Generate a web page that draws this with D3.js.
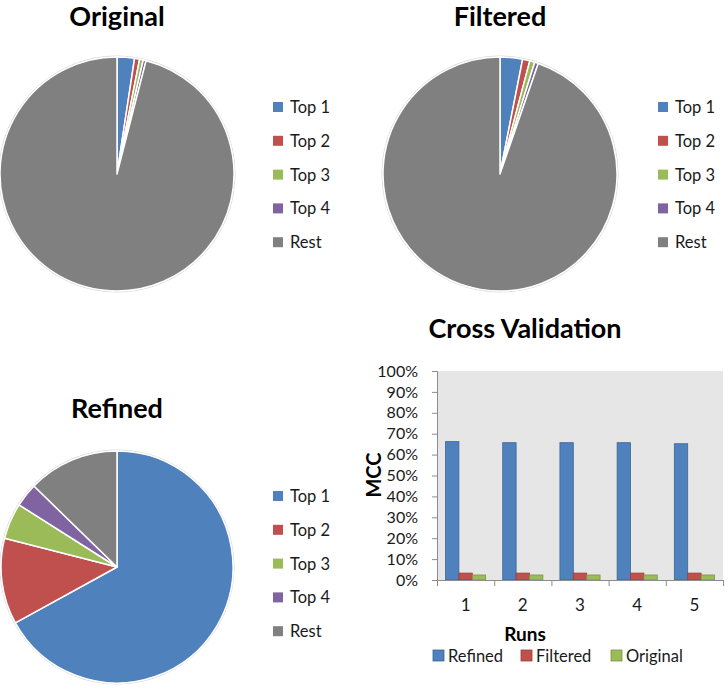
<!DOCTYPE html>
<html><head><meta charset="utf-8">
<script src="https://cdn.jsdelivr.net/npm/d3@7"></script>
<style>
body{margin:0;background:#fff;}
svg{display:block;font-family:Lato,"Open Sans",sans-serif;}
</style></head><body>
<svg id="c" width="728" height="696"></svg>
<script>
const pieCategories = ["Top 1","Top 2","Top 3","Top 4","Rest"];
const pieColors = ["#4f81bd","#c0504d","#9bbb59","#8064a2","#808080"];
const originalValues = [2.4, 0.7, 0.5, 0.4, 96.0];
const filteredValues = [3.1, 1.0, 0.7, 0.5, 94.7];
const refinedValues  = [67.0, 12.0, 5.0, 3.3, 12.7];

const runs = ["1","2","3","4","5"];
const barSeries = ["Refined","Filtered","Original"];
const barColors = ["#4f81bd","#c0504d","#9bbb59"];
const barStroke = ["#3a659a","#9a3d3a","#7a9544"];
const refinedMCC  = [0.662, 0.657, 0.657, 0.657, 0.652];
const filteredMCC = [0.033, 0.033, 0.033, 0.033, 0.033];
const originalMCC = [0.024, 0.024, 0.024, 0.024, 0.024];
const yTicks = [0,0.1,0.2,0.3,0.4,0.5,0.6,0.7,0.8,0.9,1.0];

const svg = d3.select("#c");

function drawPie(title, values, cx, cy, r, titleY, legX, legY0){
  const g = svg.append("g").attr("transform",`translate(${cx},${cy})`);
  const pie = d3.pie().sort(null).value(d=>d)(values);
  const arc = d3.arc().innerRadius(0).outerRadius(r);
  g.append("circle").attr("r", r+1).attr("fill","none").attr("stroke","#d9d9d9").attr("stroke-width",1);
  g.selectAll("path").data(pie).join("path")
    .attr("d",arc).attr("fill",(d,i)=>pieColors[i])
    .attr("stroke","#fff").attr("stroke-width",1.5).attr("stroke-linejoin","round");
  svg.append("text").attr("x",cx).attr("y",titleY).attr("text-anchor","middle")
    .attr("font-size",27).attr("font-weight","bold").attr("fill","#000").text(title);
  const lg = svg.append("g");
  pieCategories.forEach((c,i)=>{
    const yy = legY0 + i*33.8;
    lg.append("rect").attr("x",legX).attr("y",yy-5).attr("width",10).attr("height",10).attr("fill",pieColors[i]);
    lg.append("text").attr("x",legX+17).attr("y",yy).attr("dy","0.36em")
      .attr("font-size",16.5).attr("fill","#1a1a1a").text(c);
  });
}

drawPie("Original", originalValues, 117, 174, 117, 26, 273, 107);
drawPie("Filtered", filteredValues, 500, 174, 117, 26, 658, 107);
drawPie("Refined", refinedValues, 117, 567, 116, 418, 273, 496);

// Bar chart
const pL = 437, pR = 723, pT = 371, pB = 580;
const x = d3.scaleBand().domain(runs).range([pL,pR]).padding(0);
const y = d3.scaleLinear().domain([0,1]).range([pB,pT]);
const bw = x.bandwidth()*0.234;
const off = (x.bandwidth()-3*bw)/2;
const xs = d3.scaleBand().domain(barSeries).range([off, off+3*bw]).padding(0);

svg.append("rect").attr("x",pL).attr("y",pT).attr("width",pR-pL).attr("height",pB-pT).attr("fill","#e6e6e6");

const seriesData = [refinedMCC, filteredMCC, originalMCC];
barSeries.forEach((s,si)=>{
  svg.append("g").selectAll("rect").data(seriesData[si]).join("rect")
    .attr("x",(d,i)=>x(runs[i])+xs(s)).attr("y",d=>y(d))
    .attr("width",xs.bandwidth()).attr("height",d=>pB-y(d))
    .attr("fill",barColors[si]).attr("stroke",barStroke[si]).attr("stroke-width",0.8);
});

const ya = svg.append("g").attr("transform",`translate(${pL},0)`)
  .call(d3.axisLeft(y).tickValues(yTicks).tickFormat(d3.format(".0%")).tickSize(5).tickPadding(14));
ya.select(".domain").attr("stroke","#8c8c8c");
ya.selectAll(".tick line").attr("stroke","#8c8c8c");
ya.selectAll("text").attr("font-size",16).attr("fill","#1a1a1a").attr("font-family","Lato,sans-serif");

const xb = d3.scaleLinear().domain([0,5]).range([pL,pR]);
const xa = svg.append("g").attr("transform",`translate(0,${pB})`)
  .call(d3.axisBottom(xb).ticks(5).tickFormat("").tickSize(6));
xa.select(".domain").attr("stroke","#8c8c8c");
xa.selectAll(".tick line").attr("stroke","#8c8c8c");
const xl = svg.append("g").attr("transform",`translate(0,${pB})`)
  .call(d3.axisBottom(x).tickSize(0).tickPadding(19));
xl.select(".domain").remove();
xl.selectAll("text").attr("font-size",17).attr("fill","#1a1a1a").attr("font-family","Lato,sans-serif");

svg.append("text").attr("x",525).attr("y",338).attr("text-anchor","middle")
  .attr("font-size",27).attr("font-weight","bold").text("Cross Validation");
svg.append("text").attr("transform","translate(381,475) rotate(-90)").attr("text-anchor","middle")
  .attr("font-size",20).attr("font-weight","bold").text("MCC");
svg.append("text").attr("x",525).attr("y",641).attr("text-anchor","middle")
  .attr("font-size",19).attr("font-weight","bold").text("Runs");

const legXs = [433, 521, 611];
barSeries.forEach((s,i)=>{
  svg.append("rect").attr("x",legXs[i]).attr("y",650).attr("width",11).attr("height",11)
    .attr("fill",barColors[i]).attr("stroke",barStroke[i]).attr("stroke-width",0.8);
  svg.append("text").attr("x",legXs[i]+15).attr("y",656).attr("dy","0.36em")
    .attr("font-size",16.5).attr("fill","#1a1a1a").text(s);
});
</script></body></html>
